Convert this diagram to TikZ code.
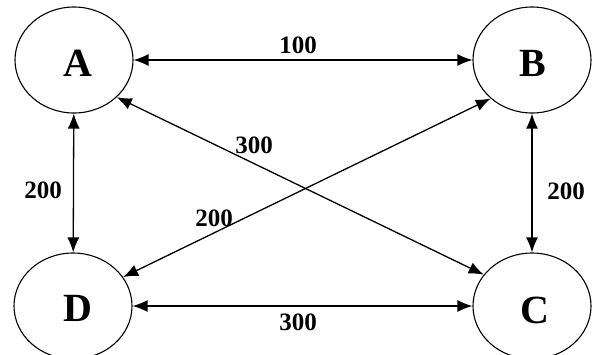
\documentclass[tikz,border=0pt]{standalone}
\usepackage{fontspec}
\setmainfont{Liberation Serif}
\usetikzlibrary{shapes.geometric,arrows.meta}
\begin{document}
\begin{tikzpicture}[x=1pt,y=-1pt,
  state/.style={draw,ellipse,line width=1.1pt,minimum width=118pt,minimum height=106pt,inner sep=0pt},
  letter/.style={font=\fontsize{40}{40}\selectfont\bfseries,inner sep=0pt},
  link/.style={line width=1.3pt,{Latex[length=15pt,width=12pt]}-{Latex[length=15pt,width=12pt]}},
  wt/.style={font=\fontsize{25}{25}\selectfont\bfseries,inner sep=0pt}]
\useasboundingbox (0,0) rectangle (594,354);
\node[state] (A) at (74,60) {};
\node[state] (B) at (532,60) {};
\node[state] (C) at (532,306) {};
\node[state] (D) at (73,306) {};
\node[letter] (la) at (78,63) {A};
\node[letter] (lb) at (533,63) {B};
\node[letter] (lc) at (535,310) {C};
\node[letter] (ld) at (78,308) {D};
\draw[link] (A) -- (B);
\draw[link] (A) -- (D);
\draw[link] (B) -- (C);
\draw[link] (D) -- (C);
\draw[link] (A.-41) -- (C.147);
\draw[link] (D.30) -- (B.-137);
\node[wt] (w1) at (298,45) {100};
\node[wt] (w2) at (254,145) {300};
\node[wt] (w3) at (43,190) {200};
\node[wt] (w4) at (214,218) {200};
\node[wt] (w5) at (566,191) {200};
\node[wt] (w6) at (298,322) {300};
\end{tikzpicture}
\end{document}
